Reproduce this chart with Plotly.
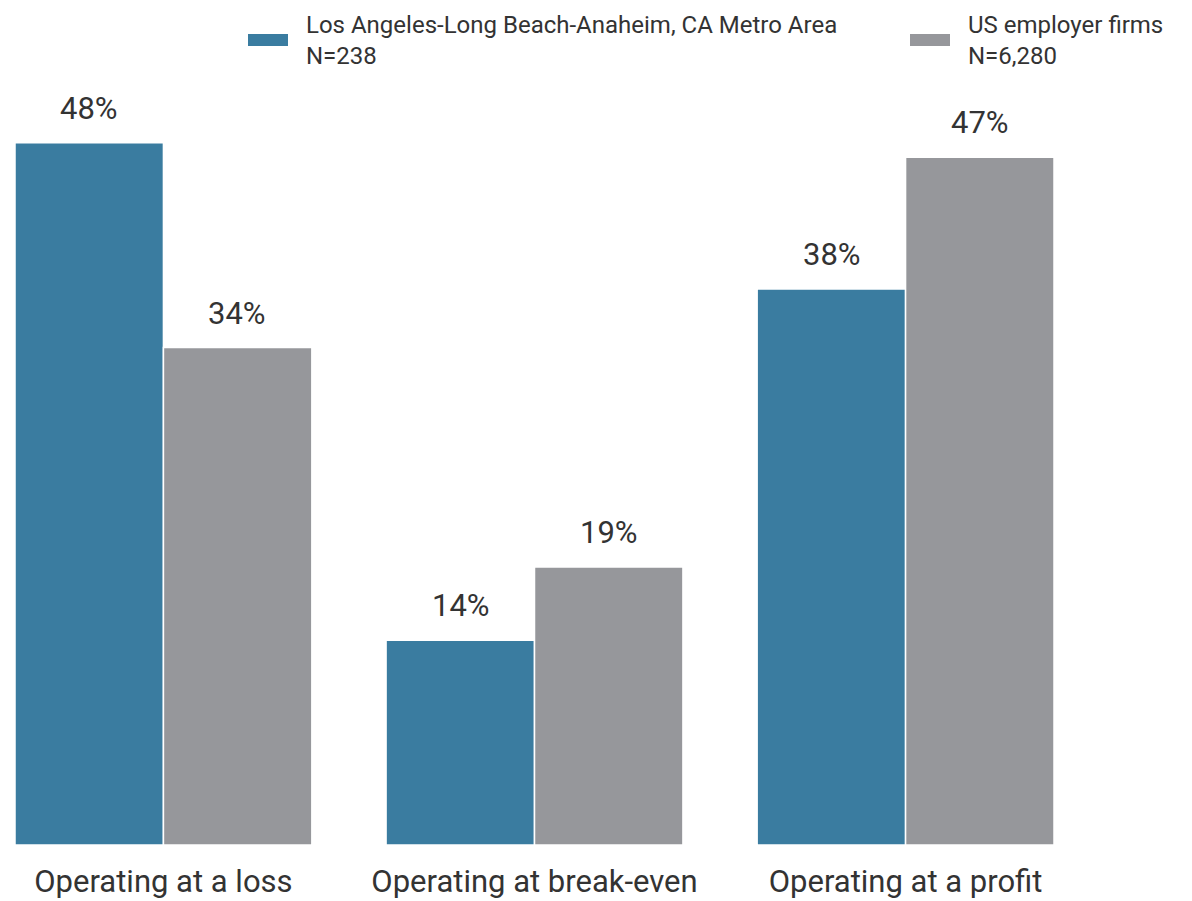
import plotly.graph_objects as go

categories = ["Operating at a loss", "Operating at break-even", "Operating at a profit"]
la_values = [48, 14, 38]
us_values = [34, 19, 47]
la_label = "Los Angeles-Long Beach-Anaheim, CA Metro Area<br>N=238"
us_label = "US employer firms<br>N=6,280"

BLUE = "#3a7ca0"
GRAY = "#96979b"
TEXT = "#333333"
FONT = "Roboto"

OFF = 8  # page body margin
W, H = 1192 - OFF, 901 - OFF
L, R, T, B = 7, 138, 82, 56
PW, PH = W - L - R, H - T - B


def px(x):  # screen pixel -> paper x
    return (x - OFF - L) / PW


def py(y):  # screen pixel -> paper y
    return (H - B - (y - OFF)) / PH


fig = go.Figure()
fig.add_trace(go.Bar(x=categories, y=la_values, name="Los Angeles-Long Beach-Anaheim, CA Metro Area",
                     marker=dict(color=BLUE, line=dict(color="white", width=1.5)),
                     showlegend=False))
fig.add_trace(go.Bar(x=categories, y=us_values, name="US employer firms",
                     marker=dict(color=GRAY, line=dict(color="white", width=1.5)),
                     showlegend=False))

annotations = []
for vals, shift in [(la_values, -74), (us_values, 74)]:
    for cat, v in zip(categories, vals):
        annotations.append(dict(x=cat, y=v, xref="x", yref="y", text=f"{v}%", showarrow=False,
                                xshift=shift, yshift=14, yanchor="bottom",
                                font=dict(size=31, color=TEXT, family=FONT)))

shapes = []
for sx, color, label in [(248, BLUE, la_label), (910, GRAY, us_label)]:
    shapes.append(dict(type="rect", xref="paper", yref="paper",
                       x0=px(sx), x1=px(sx + 40), y0=py(46), y1=py(34),
                       fillcolor=color, line=dict(width=0)))
    annotations.append(dict(x=px(sx + 56), y=py(9), xref="paper", yref="paper",
                            text=label, showarrow=False, xanchor="left", yanchor="top",
                            align="left",
                            font=dict(size=24, color=TEXT, family=FONT)))

fig.update_layout(
    width=W, height=H,
    margin=dict(l=L, r=R, t=T, b=B, autoexpand=False),
    paper_bgcolor="white", plot_bgcolor="white",
    barmode="group", bargap=0.2, bargroupgap=0,
    font=dict(family=FONT, color=TEXT),
    showlegend=False,
    annotations=annotations,
    shapes=shapes,
    xaxis=dict(range=[-0.4, 2.4], showgrid=False, showline=False, zeroline=False,
               automargin=False, ticks="", ticklen=0, ticklabelstandoff=15,
               tickfont=dict(size=31, color=TEXT, family=FONT)),
    yaxis=dict(range=[0, 51.6], visible=False, automargin=False),
)

fig.write_html("out.html")
